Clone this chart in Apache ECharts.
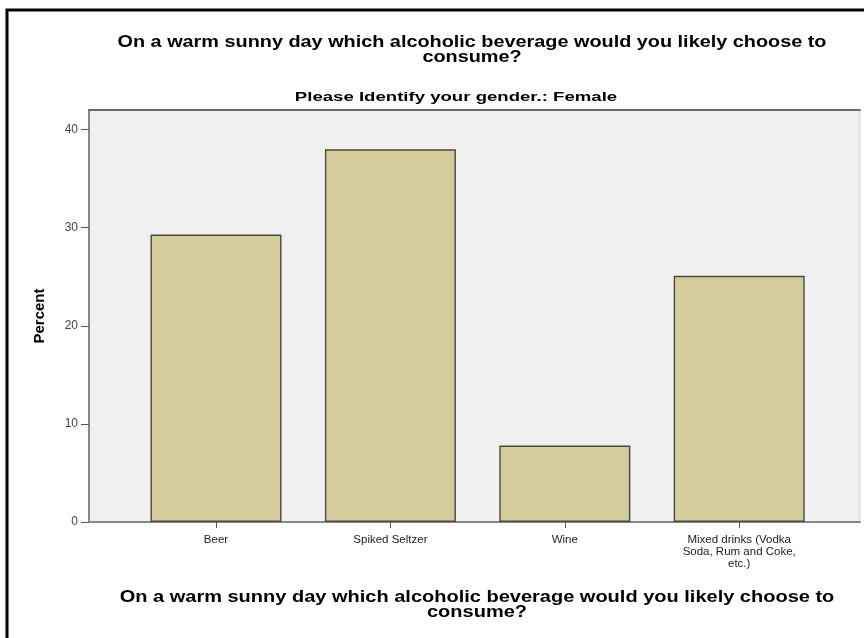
<!DOCTYPE html>
<html>
<head>
<meta charset="utf-8">
<script src="https://cdn.jsdelivr.net/npm/echarts@6/dist/echarts.min.js"></script>
<style>
html,body{margin:0;padding:0;background:#fff;}
#c{width:864px;height:638px;}
</style>
</head>
<body>
<div id="c"></div>
<script>
const categories = ['Beer', 'Spiked Seltzer', 'Wine', 'Mixed drinks (Vodka\nSoda, Rum and Coke,\netc.)'];
const percentValues = [29.3, 38.0, 7.8, 25.1];
const yTicks = [0, 10, 20, 30, 40];
const mainTitle = 'On a warm sunny day which alcoholic beverage would you likely choose to\nconsume?';
const subTitle = 'Please Identify your gender.: Female';
const xAxisTitle = 'On a warm sunny day which alcoholic beverage would you likely choose to\nconsume?';
const yAxisTitle = 'Percent';

const chart = echarts.init(document.getElementById('c'), null, {renderer: 'canvas'});
const font = 'Liberation Sans, Arial, sans-serif';

function stretchedText(text, x, y, size, sx, lh) {
  return {type: 'text', x: x, y: y, scaleX: sx, z: 50,
    style: {text: text, fontFamily: font, fontSize: size, fontWeight: 'bold', fill: '#000',
      textAlign: 'center', textVerticalAlign: 'top', lineHeight: lh}};
}

chart.setOption({
  animation: false,
  backgroundColor: '#ffffff',
  graphic: [
    {type: 'rect', shape: {x: 7, y: 10, width: 900, height: 700},
     style: {fill: 'none', stroke: '#000', lineWidth: 3}, z: 100},
    stretchedText(mainTitle, 472, 35, 16, 1.24, 15),
    stretchedText(subTitle, 456, 91, 13, 1.43, 13),
    stretchedText(xAxisTitle, 477, 590, 16, 1.25, 15)
  ],
  grid: [
    {left: 89, top: 110, width: 771, height: 412, show: true, backgroundColor: '#f0f0f0',
     borderColor: '#d6d6d6', borderWidth: 1},
    {left: 128.8, top: 110, width: 697.6, height: 412}
  ],
  xAxis: [
    {type: 'value', gridIndex: 0, min: 0, max: 1, show: true,
     axisLine: {show: true, lineStyle: {color: '#888', width: 2}},
     axisTick: {show: false}, axisLabel: {show: false}, splitLine: {show: false}},
    {type: 'category', gridIndex: 1, data: categories,
     axisLine: {show: false},
     axisTick: {show: true, alignWithLabel: true, length: 6, lineStyle: {color: '#555'}},
     axisLabel: {fontFamily: font, fontSize: 11.5, color: '#222', lineHeight: 12, margin: 12, interval: 0}},
    {type: 'value', gridIndex: 0, min: 0, max: 1, position: 'top', show: true,
     axisLine: {show: true, lineStyle: {color: '#6a6a6a', width: 2}},
     axisTick: {show: false}, axisLabel: {show: false}, splitLine: {show: false}}
  ],
  yAxis: [
    {type: 'value', gridIndex: 0, min: 0, max: 42,
     name: yAxisTitle, nameLocation: 'middle', nameRotate: 90, nameGap: 42,
     nameTextStyle: {fontFamily: font, fontSize: 15, fontWeight: 'bold', color: '#000'},
     axisLine: {show: true, lineStyle: {color: '#888', width: 2}},
     axisTick: {show: true, length: 8, customValues: yTicks, lineStyle: {color: '#555'}},
     axisLabel: {fontFamily: font, fontSize: 12, color: '#444', customValues: yTicks, margin: 11},
     splitLine: {show: false}},
    {type: 'value', gridIndex: 1, min: 0, max: 42, show: false, splitLine: {show: false}}
  ],
  series: [
    {type: 'bar', xAxisIndex: 1, yAxisIndex: 1, data: percentValues, barWidth: 131,
     itemStyle: {color: '#d3cd9b', borderColor: '#4a4a3c', borderWidth: 1.4}}
  ]
});
</script>
</body>
</html>
